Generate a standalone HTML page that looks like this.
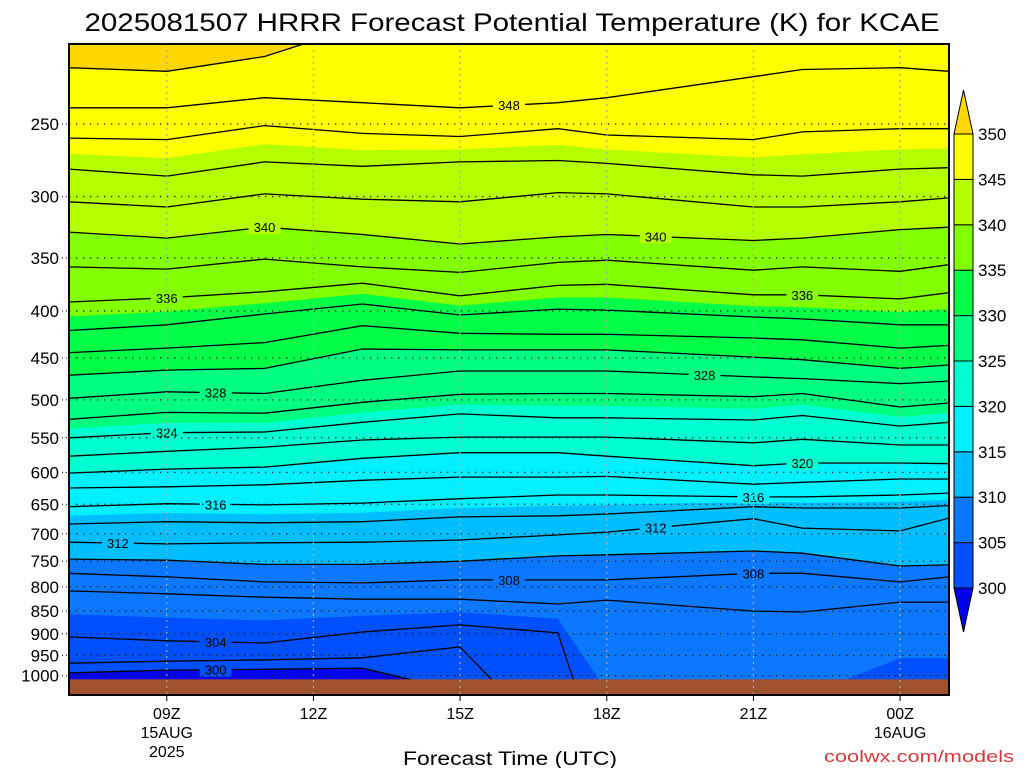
<!DOCTYPE html>
<html><head><meta charset="utf-8"><title>HRRR Potential Temperature KCAE</title>
<style>
html,body{margin:0;padding:0;background:#fff;}
svg{display:block;font-family:"Liberation Sans","DejaVu Sans",sans-serif;}
</style></head>
<body>
<svg id="chart" width="1024" height="768" viewBox="0 0 1024 768" xmlns="http://www.w3.org/2000/svg">
<defs><clipPath id="plotclip"><rect x="69" y="44" width="880" height="651"/></clipPath></defs>
<text x="512" y="31" text-anchor="middle" font-size="25" textLength="855" lengthAdjust="spacingAndGlyphs">2025081507 HRRR Forecast Potential Temperature (K) for KCAE</text>
<g id="plot" clip-path="url(#plotclip)"></g>
<g id="axes"></g>
<g id="colorbar"></g>
<text x="510" y="765" text-anchor="middle" font-size="19" textLength="214" lengthAdjust="spacingAndGlyphs">Forecast Time (UTC)</text>
<text x="1014" y="762" text-anchor="end" font-size="17" fill="#d8383a" textLength="190" lengthAdjust="spacingAndGlyphs">coolwx.com/models</text>
</svg>
<script>
// ---- data (forecast hours UTC, 24 = 00Z 16AUG) ----
const times = [7, 9, 11, 13, 15, 17, 18, 21, 22, 24, 25];
const contourLevels = [300,302,304,306,308,310,312,314,316,318,320,322,324,326,328,330,332,334,336,338,340,342,344,346,348,350];
// pressure (hPa) of each isentrope at each time
const p300 = [993,986,984,981,1040,1300,1300,1300,1300,1300,1300];
const p302 = [969,964,961,956,930,1200,1300,1300,1300,1300,1300];
const p304 = [907,916,921,896,880,898,1300,1300,1300,1100,1100];
const p306 = [808,814,821,825,825,835,827,850,852,831,831];
const p308 = [773,780,790,792,786,786,786,773,773,790,780];
const p310 = [746,748,756,756,750,740,738,731,735,759,757];
const p312 = [715,718,716,715,711,702,697,674,690,695,673];
const p314 = [683,679,681,679,671,669,666,654,656,656,652];
const p316 = [654,649,651,648,641,635,635,638,638,635,632];
const p318 = [624,622,619,612,607,607,606,618,615,610,610];
const p320 = [601,595,592,579,571,571,576,590,586,586,587];
const p322 = [576,569,563,553,549,549,549,557,552,560,560];
const p324 = [550,543,542,529,518,523,523,526,520,534,529];
const p326 = [525,516,517,503,493,492,492,496,492,509,504];
const p328 = [498,490,492,476,465,465,465,472,474,480,477];
const p330 = [470,464,462,440,441,441,441,449,452,462,458];
const p332 = [444,439,433,415,423,424,424,428,430,439,436];
const p334 = [420,414,403,393,404,398,399,406,408,414,414];
const p336 = [391,387,381,373,385,375,374,384,384,388,382];
const p338 = [358,360,351,358,363,354,352,361,358,362,356];
const p340 = [328,333,324,330,338,332,330,335,333,326,324];
const p342 = [304,308,298,302,304,297,298,308,308,304,301];
const p344 = [280,285,275,278,275,274,276,284,285,280,279];
const p346 = [259,260,251,256,258,253,257,260,255,253,253];
const p348 = [240,240,234,237,240,237,234,222,218,217,219];
const p350 = [217,219,211,195,195,195,195,195,195,195,195];
const pLevels = [p300,p302,p304,p306,p308,p310,p312,p314,p316,p318,p320,p322,p324,p326,p328,p330,p332,p334,p336,p338,p340,p342,p344,p346,p348,p350];
const fillLevels = [300,305,310,315,320,325,330,335,340,345,350];
const fillColors = ["#0000f0","#0050ff","#0b78ff","#00beff","#00f0ff","#00ffd0","#00ff80","#00ff46","#82ff00","#b4ff00","#ffff00","#ffd700"];
const yTicks = [250,300,350,400,450,500,550,600,650,700,750,800,850,900,950,1000];
const xTickHours = [9,12,15,18,21,24];
const xTickLabels = ["09Z","12Z","15Z","18Z","21Z","00Z"];
const xTickDates = ["15AUG","","","","","16AUG"];
const xTickYears = ["2025","","","","",""];
const labelLevels = [348,340,340,336,336,328,328,324,320,316,316,312,312,308,308,304,300];
const labelHours  = [16,11,19,9,22,10,20,9,22,10,21,8,19,16,21,10,10];
const groundP = 1009;

// ---- axis functions ----
const X0=69, X1=949, Y0=44, Y1=695;
function xOf(t){ return X0 + (t-7)*(X1-X0)/18; }
function yOf(p){ return 124 + 398*Math.log(p/250); }
const NS="http://www.w3.org/2000/svg";
function mk(tag, attrs, parent){ const e=document.createElementNS(NS,tag); for(const k in attrs) e.setAttribute(k,attrs[k]); parent.appendChild(e); return e; }

function curveY(level){
  const i = contourLevels.indexOf(level);
  if(i>=0) return pLevels[i].map(yOf);
  const a = curveY(level-1), b = curveY(level+1);
  return a.map((v,k)=>(v+b[k])/2);
}
function yAt(level, t){
  const ys = curveY(level);
  for(let k=0;k<times.length-1;k++){
    if(t>=times[k] && t<=times[k+1]){ const f=(t-times[k])/(times[k+1]-times[k]); return ys[k]+f*(ys[k+1]-ys[k]); }
  }
  return ys[ys.length-1];
}
function bandColorFor(level){
  let idx=0; for(let i=0;i<fillLevels.length;i++) if(level>=fillLevels[i]) idx=i+1;
  return fillColors[idx];
}

const plot=document.getElementById('plot');
const xs = times.map(xOf);
// ---- filled bands ----
const bounds = [null].concat(fillLevels).concat([null]);
for(let b=0;b<bounds.length-1;b++){
  const lo=bounds[b], hi=bounds[b+1];
  const loY = lo===null ? times.map(()=>Y1+50) : curveY(lo);
  const hiY = hi===null ? times.map(()=>Y0-50) : curveY(hi);
  let pts=[];
  for(let k=0;k<times.length;k++) pts.push(xs[k].toFixed(1)+","+hiY[k].toFixed(1));
  for(let k=times.length-1;k>=0;k--) pts.push(xs[k].toFixed(1)+","+loY[k].toFixed(1));
  const poly=mk('polygon',{points:pts.join(' '),fill:fillColors[b],stroke:fillColors[b],'stroke-width':0.6},plot);
  
  
}
// ---- contour lines ----
contourLevels.forEach((lev,i)=>{
  const ys=pLevels[i].map(yOf);
  const pl=mk('polyline',{points:xs.map((x,k)=>x.toFixed(1)+","+ys[k].toFixed(1)).join(' '),fill:'none',stroke:'#000','stroke-width':1.3},plot);
  
  
});
// ---- ground ----
const g=mk('rect',{x:X0,y:yOf(groundP),width:X1-X0,height:Y1-yOf(groundP),fill:'#a0522d'},plot);


// ---- contour labels ----
labelLevels.forEach((lev,i)=>{
  const x=xOf(labelHours[i]), y=yAt(lev,labelHours[i]);
  const r=mk('rect',{x:x-16,y:y-7,width:32,height:14,fill:bandColorFor(lev)},plot);
  
  
  const t=mk('text',{x:x,y:y+5,'text-anchor':'middle','font-size':13},plot);
  t.textContent=lev;
  
  
});
// ---- grid ----
yTicks.forEach(p=>{
  const y=yOf(p);
  const l=mk('line',{x1:X0,x2:X1,y1:y,y2:y,stroke:'#222','stroke-width':1.3,'stroke-dasharray':'1.3 5.7'},plot);
  
  
});
xTickHours.forEach(h=>{
  const x=xOf(h);
  const l=mk('line',{x1:x,x2:x,y1:Y0,y2:Y1,stroke:'#aaa','stroke-width':1.2,'stroke-dasharray':'2 4'},plot);
  
  
});
// ---- axes ----
const ax=document.getElementById('axes');
const fr=mk('rect',{x:X0,y:Y0,width:X1-X0,height:Y1-Y0,fill:'none',stroke:'#000','stroke-width':2},ax);


yTicks.forEach(p=>{
  const y=yOf(p);
  const tk=mk('line',{x1:62,x2:X0,y1:y,y2:y,stroke:'#000','stroke-width':1,'stroke-dasharray':'1 3'},ax);
  
  
  const t=mk('text',{x:59,y:y+6,'text-anchor':'end','font-size':17},ax);
  t.textContent=p;
  
  
});
xTickHours.forEach((h,i)=>{
  const x=xOf(h);
  const tk=mk('line',{x1:x,x2:x,y1:Y1,y2:Y1+6,stroke:'#000','stroke-width':1},ax);
  
  
  const t=mk('text',{x:x,y:719,'text-anchor':'middle','font-size':16},ax);
  t.textContent=xTickLabels[i];
  
  
  if(xTickDates[i]){
    const d=mk('text',{x:x,y:738,'text-anchor':'middle','font-size':16},ax);
    d.textContent=xTickDates[i];
    
    
  }
  if(xTickYears[i]){
    const yv=mk('text',{x:x,y:757,'text-anchor':'middle','font-size':16},ax);
    yv.textContent=xTickYears[i];
    
    
  }
});
// ---- colorbar ----
const cb=document.getElementById('colorbar');
const CBX0=954, CBX1=973, CBTOP=134, CBSTEP=45.4;
function cbY(v){ return CBTOP + (350-v)/5*CBSTEP; }
const tri1=mk('polygon',{points:`${CBX0},${cbY(350)} ${CBX1},${cbY(350)} ${(CBX0+CBX1)/2},90`,fill:fillColors[11],stroke:'#000','stroke-width':1},cb);


const tri2=mk('polygon',{points:`${CBX0},${cbY(300)} ${CBX1},${cbY(300)} ${(CBX0+CBX1)/2},632`,fill:fillColors[0],stroke:'#000','stroke-width':1},cb);


for(let i=0;i<fillLevels.length-1;i++){
  const lo=fillLevels[i], hi=fillLevels[i+1];
  const r=mk('rect',{x:CBX0,y:cbY(hi),width:CBX1-CBX0,height:cbY(lo)-cbY(hi),fill:fillColors[i+1],stroke:'#000','stroke-width':1},cb);
  
  
}
fillLevels.forEach(v=>{
  const t=mk('text',{x:978,y:cbY(v)+6,'font-size':17},cb);
  t.textContent=v;
  
  
});
</script>
</body></html>
